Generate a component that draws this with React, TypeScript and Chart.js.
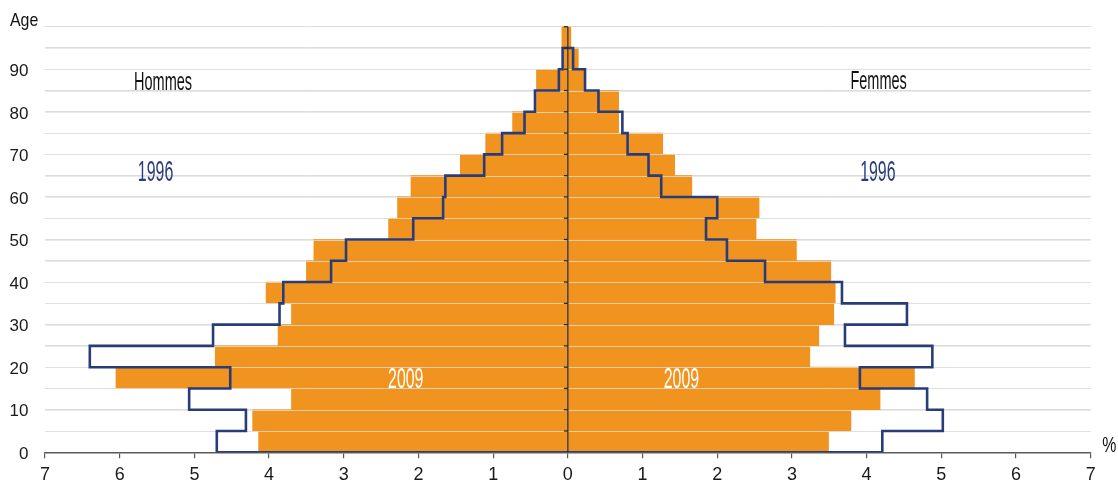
import React, { useEffect, useRef } from 'react';
import { Chart, registerables } from 'chart.js';

Chart.register(...registerables);

// Age groups (lower bound of each 5-year band)
const ageStarts = [0, 5, 10, 15, 20, 25, 30, 35, 40, 45, 50, 55, 60, 65, 70, 75, 80, 85, 90, 95];

// 2009 population shares (%)
const men2009 = [4.14, 4.22, 3.70, 6.05, 4.72, 3.88, 3.70, 4.04, 3.50, 3.40, 2.40, 2.28, 2.10, 1.44, 1.10, 0.74, 0.42, 0.42, 0.05, 0.08];
const women2009 = [3.49, 3.79, 4.18, 4.64, 3.24, 3.36, 3.56, 3.58, 3.52, 3.06, 2.52, 2.56, 1.66, 1.43, 1.27, 0.68, 0.68, 0.23, 0.14, 0.04];

// 1996 population shares (%) — ages 0-4 .. 90-94
const men1996 = [4.70, 4.31, 5.07, 4.52, 6.40, 4.75, 3.86, 3.81, 3.17, 2.97, 2.07, 1.67, 1.64, 1.12, 0.88, 0.58, 0.44, 0.12, 0.07];
const women1996 = [4.21, 5.02, 4.81, 3.91, 4.88, 3.71, 4.54, 3.67, 2.64, 2.13, 1.85, 2.00, 1.25, 1.08, 0.80, 0.73, 0.41, 0.23, 0.07];

const xMin = -7;
const xMax = 7;
const yMax = 100;

const ORANGE = '#F0931F';
const NAVY = '#283C7A';
const FONT = "'Liberation Sans', Arial, sans-serif";

function buildOutline() {
  const pts: { x: number; y: number }[] = [];
  for (let i = 0; i < men1996.length; i++) {
    pts.push({ x: -men1996[i], y: ageStarts[i] });
    pts.push({ x: -men1996[i], y: ageStarts[i] + 5 });
  }
  for (let i = women1996.length - 1; i >= 0; i--) {
    pts.push({ x: women1996[i], y: ageStarts[i] + 5 });
    pts.push({ x: women1996[i], y: ageStarts[i] });
  }
  pts.push({ x: -men1996[0], y: 0 });
  return pts;
}

const overlayPlugin = {
  id: 'pyramidOverlay',
  beforeDatasetDraw(chart: any, args: any) {
    if (args.index !== 2) return;
    const { ctx, chartArea, scales } = chart;
    ctx.save();
    ctx.strokeStyle = 'rgba(225,225,225,0.75)';
    ctx.lineWidth = 1;
    for (let a = 5; a < yMax; a += 5) {
      const y = Math.round(scales.y.getPixelForValue(a)) + 0.5;
      ctx.beginPath();
      ctx.moveTo(chartArea.left, y);
      ctx.lineTo(chartArea.right, y);
      ctx.stroke();
    }
    ctx.restore();
  },
  afterDatasetsDraw(chart: any) {
    const { ctx, chartArea, scales } = chart;
    const x0 = scales.x.getPixelForValue(0);
    ctx.save();
    ctx.strokeStyle = '#2a2a2a';
    ctx.lineWidth = 1.3;
    ctx.beginPath();
    ctx.moveTo(x0, scales.y.getPixelForValue(yMax));
    ctx.lineTo(x0, chartArea.bottom);
    ctx.stroke();
    for (let a = 5; a <= yMax; a += 5) {
      const y = scales.y.getPixelForValue(a);
      ctx.beginPath();
      ctx.moveTo(x0 - 4, y);
      ctx.lineTo(x0, y);
      ctx.stroke();
    }
    ctx.restore();
  },
  afterDraw(chart: any) {
    const { ctx, chartArea, scales } = chart;
    const px = (v: number) => scales.x.getPixelForValue(v);
    const py = (v: number) => scales.y.getPixelForValue(v);
    const txt = (s: string, x: number, y: number, size: number, sx: number, color: string, align: CanvasTextAlign = 'center') => {
      ctx.save();
      ctx.font = `${size}px ${FONT}`;
      ctx.fillStyle = color;
      ctx.textBaseline = 'alphabetic';
      ctx.textAlign = align;
      ctx.translate(x, y);
      ctx.scale(sx, 1);
      ctx.fillText(s, 0, 0);
      ctx.restore();
    };
    txt('Hommes', px(-5.42), py(85.2), 25, 0.58, '#111');
    txt('Femmes', px(4.16), py(85.3), 25, 0.58, '#111');
    txt('1996', px(-5.52), py(63.8), 30, 0.53, NAVY);
    txt('1996', px(4.15), py(63.8), 30, 0.53, NAVY);
    txt('2009', px(-2.17), py(15.1), 30, 0.53, '#ffffff');
    txt('2009', px(1.52), py(15.1), 30, 0.53, '#ffffff');
    txt('Age', chartArea.left - 35, py(yMax) - 0.5, 18.5, 0.86, '#111', 'left');
    txt('%', chartArea.right + 18.5, chartArea.bottom, 22, 0.72, '#111');
  },
};

export default function App() {
  const ref = useRef<HTMLCanvasElement | null>(null);

  useEffect(() => {
    if (!ref.current) return;
    const chart = new Chart(ref.current, {
      type: 'bar',
      data: {
        datasets: [
          {
            type: 'bar',
            label: 'Hommes 2009',
            data: men2009.map((v, i) => ({ x: -v, y: ageStarts[i] + 2.5 })),
            backgroundColor: ORANGE,
            borderWidth: 0,
            grouped: false,
            barPercentage: 1,
            categoryPercentage: 1,
            order: 2,
          } as any,
          {
            type: 'bar',
            label: 'Femmes 2009',
            data: women2009.map((v, i) => ({ x: v, y: ageStarts[i] + 2.5 })),
            backgroundColor: ORANGE,
            borderWidth: 0,
            grouped: false,
            barPercentage: 1,
            categoryPercentage: 1,
            order: 2,
          } as any,
          {
            type: 'line',
            label: '1996',
            data: buildOutline(),
            borderColor: NAVY,
            borderWidth: 2.6,
            pointRadius: 0,
            tension: 0,
            fill: false,
            borderJoinStyle: 'miter',
            order: 1,
          } as any,
        ],
      },
      options: {
        indexAxis: 'y',
        animation: false,
        responsive: true,
        maintainAspectRatio: false,
        layout: { padding: { top: 25.7, right: 27.3, bottom: 0, left: 0 } },
        plugins: { legend: { display: false }, tooltip: { enabled: false } },
        scales: {
          x: {
            type: 'linear',
            min: xMin,
            max: xMax,
            offset: false,
            afterFit: (s: any) => { s.height = 36.7; },
            ticks: {
              stepSize: 1,
              callback: (v: any) => String(Math.abs(Number(v))),
              font: { family: FONT, size: 18 },
              color: '#1a1a1a',
              padding: 6,
              maxRotation: 0,
            },
            grid: { display: true, offset: false, drawOnChartArea: false, drawTicks: true, tickLength: 6, color: '#5a5a5a', lineWidth: 1.2 },
            border: { display: true, color: '#5a5a5a', width: 1.6 },
          },
          y: {
            type: 'linear',
            min: 0,
            max: yMax,
            offset: false,
            afterFit: (s: any) => { s.width = 45; },
            ticks: {
              stepSize: 5,
              callback: (v: any) => (Number(v) % 10 === 0 && Number(v) < yMax ? String(v) : ''),
              font: { family: FONT, size: 17 },
              color: '#1a1a1a',
              padding: 16.5,
              labelOffset: 2,
              autoSkip: false,
            },
            grid: { color: '#dcdcdc', lineWidth: 1, drawTicks: false, offset: false },
            border: { display: false },
          },
        },
      },
      plugins: [overlayPlugin],
    });
    return () => chart.destroy();
  }, []);

  return (
    <div style={{ position: 'fixed', left: 0, top: 0, width: 1118, height: 489, background: '#fff' }}>
      <canvas ref={ref} />
    </div>
  );
}
